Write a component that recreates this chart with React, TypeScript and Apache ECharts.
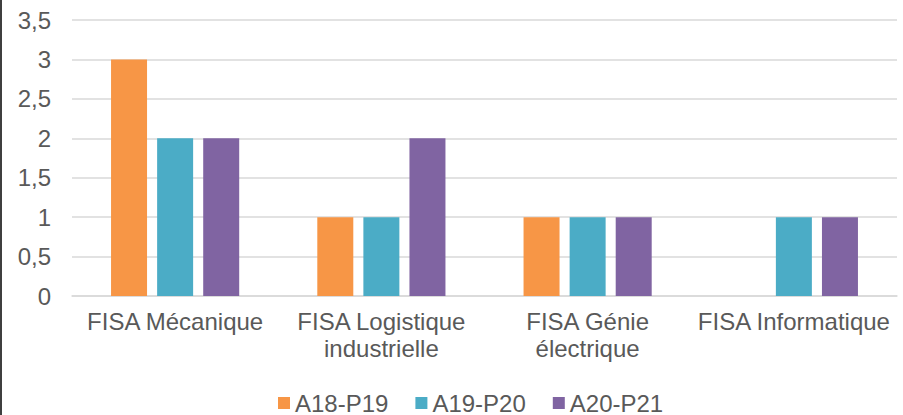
import React, { useEffect, useRef } from "react";
import * as echarts from "echarts";

const categories = [
  "FISA Mécanique",
  "FISA Logistique\nindustrielle",
  "FISA Génie\nélectrique",
  "FISA Informatique",
];
const seriesNames = ["A18-P19", "A19-P20", "A20-P21"];
const a18p19: (number | null)[] = [3, 1, 1, null];
const a19p20: (number | null)[] = [2, 1, 1, 1];
const a20p21: (number | null)[] = [2, 2, 1, 1];
const colors = ["#F79646", "#4BACC6", "#8064A2"];

export default function App() {
  const ref = useRef<HTMLDivElement>(null);
  useEffect(() => {
    document.body.style.margin = "0";
    if (!ref.current) return;
    const chart = echarts.init(ref.current, undefined, { renderer: "svg" });
    const font = "'Liberation Sans', Arial, sans-serif";
    const textColor = "#595959";
    const values = [a18p19, a19p20, a20p21];
    chart.setOption({
      animation: false,
      backgroundColor: "#FFFFFF",
      textStyle: { fontFamily: font },
      grid: { left: 72, right: 6, top: 20, bottom: 119, containLabel: false },
      legend: {
        left: 278,
        top: 391,
        padding: 0,
        itemWidth: 12,
        itemHeight: 12,
        itemGap: 27,
        icon: "rect",
        textStyle: { color: textColor, fontSize: 24, fontFamily: font, lineHeight: 24 },
        data: seriesNames,
      },
      xAxis: {
        type: "category",
        data: categories,
        axisLine: { show: true, lineStyle: { color: "#D9D9D9", width: 1.5 } },
        axisTick: { show: false },
        axisLabel: {
          color: textColor,
          fontSize: 24,
          fontFamily: font,
          margin: 12,
          lineHeight: 27,
          interval: 0,
        },
      },
      yAxis: {
        type: "value",
        min: 0,
        max: 3.5,
        interval: 0.5,
        axisLine: { show: false },
        axisTick: { show: false },
        splitLine: { lineStyle: { color: "#D9D9D9", width: 1.5 } },
        axisLabel: {
          color: textColor,
          fontSize: 24,
          fontFamily: font,
          margin: 21,
          formatter: (v: number) => String(v).replace(".", ","),
        },
      },
      series: seriesNames.map((name, i) => ({
        name,
        type: "bar",
        data: values[i],
        barWidth: 36,
        barGap: "28%",
        itemStyle: { color: colors[i] },
      })),
      graphic: [
        {
          type: "rect",
          left: 0,
          top: 0,
          shape: { width: 2, height: 415 },
          style: { fill: "#3F3F3F" },
        },
      ],
    });
    return () => chart.dispose();
  }, []);
  return <div ref={ref} style={{ width: 903, height: 415 }} />;
}
